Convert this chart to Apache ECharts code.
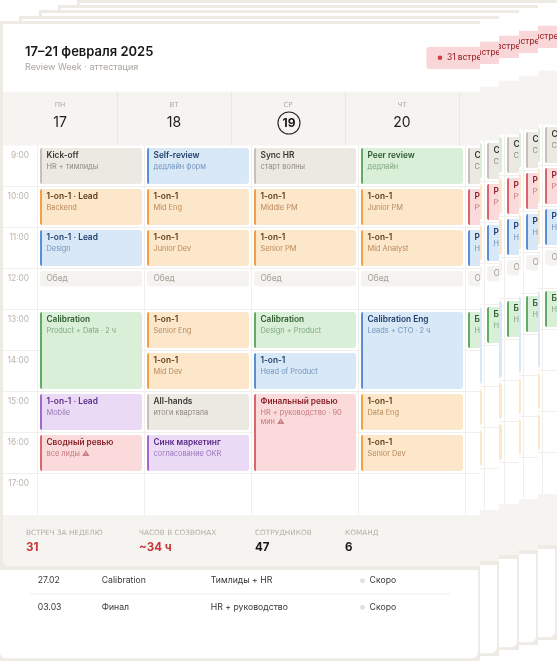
<!DOCTYPE html>
<html lang="ru"><head><meta charset="utf-8"><title>Review Week</title>
<script src="https://cdn.jsdelivr.net/npm/echarts@6/dist/echarts.min.js"></script>
<style>
html,body{margin:0;padding:0;width:558px;height:661px;overflow:hidden;background:#ffffff;}
.copy{position:absolute;width:480px;height:640px;}
</style></head><body>
<script>
// ---------- DATA ----------
const weekTitle = '17–21 февраля 2025';
const weekSubtitle = 'Review Week · аттестация';
const badgeText = '31 встреча';
const dayNames = ['ПН', 'ВТ', 'СР', 'ЧТ', 'ПТ'];
const dayNumbers = ['17', '18', '19', '20', '21'];
const todayIndex = 2;
const hourMin = 9, hourMax = 18;

const eventDay   = [0,0,0,0,0,0,0, 1,1,1,1,1,1,1,1, 2,2,2,2,2,2,2, 3,3,3,3,3,3,3, 4,4,4,4,4];
const eventStart = [9,10,11,12,13,15,16, 9,10,11,12,13,14,15,16, 9,10,11,12,13,14,15, 9,10,11,12,13,15,16, 9,10,11,12,13];
const eventEnd   = [10,11,12,12.5,15,16,17, 10,11,12,12.5,14,15,16,17, 10,11,12,12.5,14,15,17, 10,11,12,12.5,15,16,17, 10,11,12,12.5,14];
const eventTitle = [
  'Kick-off','1-on-1 · Lead','1-on-1 · Lead','Обед','Calibration','1-on-1 · Lead','Сводный ревью',
  'Self-review','1-on-1','1-on-1','Обед','1-on-1','1-on-1','All-hands','Синк маркетинг',
  'Sync HR','1-on-1','1-on-1','Обед','Calibration','1-on-1','Финальный ревью',
  'Peer review','1-on-1','1-on-1','Обед','Calibration Eng','1-on-1','1-on-1',
  'Check-in','Ревью итогов','Разбор кейсов','Обед','Будущие цели'
];
const eventSub = [
  'HR + тимлиды','Backend','Design','','Product + Data · 2 ч','Mobile','все лиды ⚠',
  'дедлайн форм','Mid Eng','Junior Dev','','Senior Eng','Mid Dev','итоги квартала','согласование OKR',
  'старт волны','Middle PM','Senior PM','','Design + Product','Head of Product','HR + руководство · 90 мин ⚠',
  'дедлайн','Junior PM','Mid Analyst','','Leads + CTO · 2 ч','Data Eng','Senior Dev',
  'Closing notes','Руководство','HR + тимлиды','','HR + сотрудник'
];
const eventKind = [
  'gray','orange','blue','lunch','green','purple','red',
  'blue','orange','orange','lunch','orange','orange','gray','purple',
  'gray','orange','orange','lunch','green','blue','red',
  'green','orange','orange','lunch','blue','orange','orange',
  'gray','red','blue','lunch','green'
];

const statLabels = ['ВСТРЕЧ ЗА НЕДЕЛЮ', 'ЧАСОВ В СОЗВОНАХ', 'СОТРУДНИКОВ', 'КОМАНД'];
const statValues = ['31', '~34 ч', '47', '6'];
const statAccent = [true, true, false, false];

const upcomingDates  = ['27.02', '03.03'];
const upcomingNames  = ['Calibration', 'Финал'];
const upcomingWho    = ['Тимлиды + HR', 'HR + руководство'];
const upcomingStatus = ['Скоро', 'Скоро'];

// ---------- STYLE ----------
const FONT = 'Inter, "Noto Sans", sans-serif';
const WIDE = '"DejaVu Sans", sans-serif';
const PAGE_BG = '#eeebe4';
const BAND = '#f6f4f0';
const SEP = '#ebe8e2';
const LINE = '#f1efeb';
const PALETTE = {
  gray:   {bg:'#ece9e3', border:'#c5c1ba', title:'#3b3732', sub:'#8f8a83'},
  orange: {bg:'#fde7cb', border:'#f2a045', title:'#5b3a12', sub:'#b88a5c'},
  blue:   {bg:'#d8e8f6', border:'#5a8fd6', title:'#1f3e6b', sub:'#7394bd'},
  green:  {bg:'#d9efd8', border:'#62ab62', title:'#2f5a2f', sub:'#80a880'},
  purple: {bg:'#ebdaf5', border:'#a466d0', title:'#5b2a86', sub:'#9a78b8'},
  red:    {bg:'#fadadb', border:'#d9666c', title:'#8c2228', sub:'#c57a7e'},
  lunch:  {bg:'#f5f3ef', border:null, title:'#a29d96', sub:'#a29d96'}
};
const TIME_COL = 34.5, INSET = 2.5, SUB_SIZE = 7.4;
const COPY_LEFT = [0, 19, 39, 58, 77];
const COPY_TOP  = [21, 16, 10, 5, 0];

const measureCtx = document.createElement('canvas').getContext('2d');
function wrapWords(text, size, maxWidth) {
  measureCtx.font = size + 'px ' + FONT;
  const words = text.split(' ');
  const lines = [];
  let cur = '';
  for (const w of words) {
    const t = cur ? cur + ' ' + w : w;
    if (cur && measureCtx.measureText(t).width > maxWidth) { lines.push(cur); cur = w; }
    else cur = t;
  }
  if (cur) lines.push(cur);
  return lines.join('\n');
}

function txt(text, x, y, fill, size, weight, family, align) {
  return {type:'text', style:{text:text, x:x, y:y, fill:fill, fontSize:size, fontWeight:weight || 'normal',
    fontFamily:family || FONT, align:align || 'left', verticalAlign:'middle'}};
}

function pageGraphics() {
  const g = [];
  g.push({type:'rect', silent:true, shape:{x:0,y:0,width:480,height:640}, style:{fill:PAGE_BG}});
  g.push({type:'rect', silent:true, shape:{x:3,y:3,width:620,height:491}, style:{fill:'#ffffff'}});
  // header
  g.push(txt(weekTitle, 25, 30.7, '#171717', 13, 600));
  g.push(txt(weekSubtitle, 25, 46.7, '#aaa59e', 9));
  g.push({type:'rect', shape:{x:426.5,y:25.7,width:86,height:22.3,r:3}, style:{fill:'#f9d6d7'}});
  g.push({type:'circle', shape:{cx:440,cy:36.8,r:2.3}, style:{fill:'#d23c3f'}});
  g.push(txt(badgeText, 447, 37, '#9e2a2f', 8.3, 500));
  // day band
  g.push({type:'rect', shape:{x:3,y:70.7,width:620,height:53.8}, style:{fill:BAND}});
  for (let i = 1; i < dayNames.length; i++) {
    g.push({type:'rect', shape:{x:3 + 114 * i, y:70.7, width:1, height:53.8}, style:{fill:SEP}});
  }
  for (let i = 0; i < dayNames.length; i++) {
    const cx = 60 + 114 * i;
    g.push(txt(dayNames[i], cx, 84, '#b0aba4', 7, 'normal', WIDE, 'center'));
    if (i === todayIndex) {
      g.push({type:'circle', shape:{cx:cx + 1, cy:102, r:11}, style:{fill:'none', stroke:'#222222', lineWidth:1.1}});
      g.push(txt(dayNumbers[i], cx + 1, 102.3, '#161616', 12, 700, FONT, 'center'));
    } else {
      g.push(txt(dayNumbers[i], cx, 101.7, '#1c1c1c', 14, 'normal', FONT, 'center'));
    }
  }
  // stats band
  g.push({type:'rect', shape:{x:3,y:494,width:620,height:51,r:[0,0,6,6]}, style:{fill:BAND}});
  const statX = [26, 139, 255, 345];
  for (let i = 0; i < statLabels.length; i++) {
    g.push(txt(statLabels[i], statX[i], 511.7, '#b3aea7', 7.3, 'normal', WIDE));
    g.push(txt(statValues[i], statX[i], 526.3, statAccent[i] ? '#c7373c' : '#171717', 11.5, 700));
  }
  // upcoming table
  g.push({type:'rect', shape:{x:0,y:549,width:478,height:88.3,r:[0,0,6,6]}, style:{fill:'#ffffff'}});
  const rowY = [559.7, 586.3];
  for (let i = 0; i < upcomingDates.length; i++) {
    const y = rowY[i];
    g.push(txt(upcomingDates[i], 37.7, y, '#3a3733', 8.7));
    g.push(txt(upcomingNames[i], 101.7, y, '#3a3733', 8.7));
    g.push(txt(upcomingWho[i], 210.7, y, '#3a3733', 8.7));
    g.push({type:'circle', shape:{cx:362.5, cy:y, r:2}, style:{fill:'#e6e3de', stroke:'#d3cfc8', lineWidth:0.6}});
    g.push(txt(upcomingStatus[i], 369.6, y, '#3a3733', 8.7));
  }
  g.push({type:'rect', shape:{x:30,y:572.5,width:420,height:1}, style:{fill:'#f0eee9'}});
  return g;
}

function buildOption() {
  const hourLines = [];
  for (let h = hourMin + 1; h < hourMax; h++) hourLines.push([0, h]);
  const hourLabels = [];
  for (let h = hourMin; h < hourMax; h++) hourLabels.push([0, h]);
  const days = [];
  for (let d = 0; d < dayNames.length; d++) days.push([d, hourMin]);
  const evData = eventDay.map((d, i) => [d, eventStart[i], eventEnd[i]]);
  return {
    animation: false,
    backgroundColor: 'transparent',
    graphic: {elements: pageGraphics()},
    grid: {left: 37.5, top: 124.5, width: 535, height: 369, containLabel: false, outerBoundsMode: 'none'},
    xAxis: {type:'value', min:0, max:5, interval:1, show:false},
    yAxis: {
      type:'value', min:hourMin, max:hourMax, interval:1, inverse:true,
      axisLine:{show:false}, axisTick:{show:false}, splitLine:{show:false}, axisLabel:{show:false}
    },
    series: [
      {
        type:'custom', name:'rows', z:1, silent:true, data:hourLines,
        renderItem(params, api) {
          const y = api.coord([0, api.value(1)])[1];
          const cs = params.coordSys;
          return {type:'rect', shape:{x:cs.x - TIME_COL, y:y - 0.5, width:cs.width + TIME_COL, height:1}, style:{fill:LINE}};
        }
      },
      {
        type:'custom', name:'cols', z:1, silent:true, data:days,
        renderItem(params, api) {
          const p = api.coord([api.value(0), hourMin]);
          const cs = params.coordSys;
          return {type:'rect', shape:{x:p[0] - 0.5, y:cs.y, width:1, height:cs.height}, style:{fill:LINE}};
        }
      },
      {
        type:'custom', name:'hours', z:2, silent:true, data:hourLabels,
        renderItem(params, api) {
          const h = api.value(1);
          const p = api.coord([0, h]);
          return txt(h + ':00', p[0] - 8.5, p[1] + 10, '#b9b4ad', 8.3, 'normal', FONT, 'right');
        }
      },
      {
        type:'custom', name:'events', z:3, silent:true, data:evData,
        encode:{x:0, y:[1, 2]},
        renderItem(params, api) {
          const i = params.dataIndex;
          const d = api.value(0), s = api.value(1), e = api.value(2);
          const p0 = api.coord([d, s]), p1 = api.coord([d + 1, e]);
          const x = p0[0] + INSET, y = p0[1] + INSET;
          const w = p1[0] - p0[0] - 2 * INSET, h = p1[1] - p0[1] - 2 * INSET;
          const c = PALETTE[eventKind[i]];
          const ch = [{type:'rect', shape:{x, y, width:w, height:h, r:3}, style:{fill:c.bg}}];
          if (c.border) {
            ch.push({type:'rect', shape:{x, y, width:2, height:h, r:[2,0,0,2]}, style:{fill:c.border}});
            ch.push(txt(eventTitle[i], x + 6.5, y + 7.6, c.title, 8.3, 600));
            ch.push({type:'text', style:{text:wrapWords(eventSub[i], SUB_SIZE, w - 10), x:x + 6.5, y:y + 14, fill:c.sub,
              fontSize:SUB_SIZE, fontFamily:FONT, fontWeight:'normal', verticalAlign:'top', lineHeight:9.3}});
          } else {
            ch.push(txt(eventTitle[i], x + 6.5, y + h / 2, c.title, 8.3));
          }
          return {type:'group', children:ch};
        }
      }
    ]
  };
}

const option = buildOption();
for (let k = COPY_LEFT.length - 1; k >= 0; k--) {
  const div = document.createElement('div');
  div.className = 'copy';
  div.style.left = COPY_LEFT[k] + 'px';
  div.style.top = COPY_TOP[k] + 'px';
  div.style.zIndex = String(20 - k);
  document.body.appendChild(div);
  const chart = echarts.init(div, null, {renderer:'canvas'});
  chart.setOption(option);
}
</script>
</body></html>
